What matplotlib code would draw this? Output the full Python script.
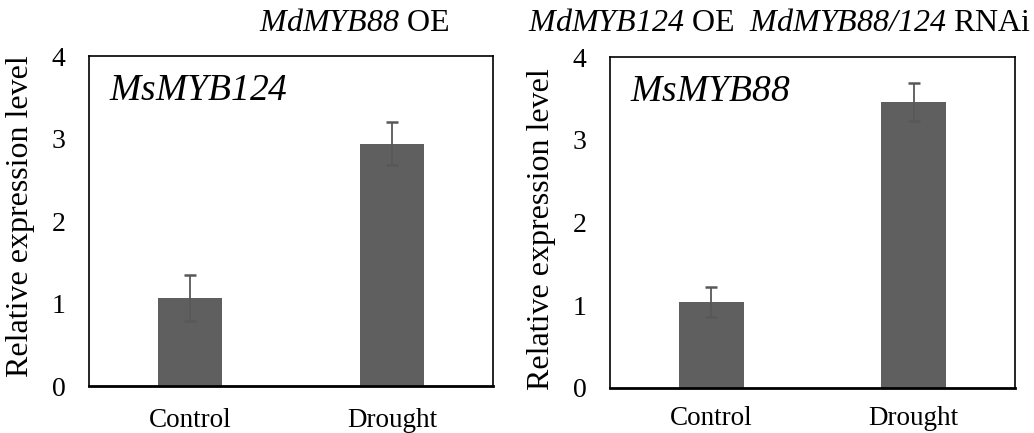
import matplotlib
matplotlib.use('Agg')
import matplotlib.pyplot as plt

# 資料
categories = ['Control', 'Drought']
myb124_mean = [1.07, 2.94]
myb124_err = [0.28, 0.26]
myb88_mean = [1.04, 3.46]
myb88_err = [0.18, 0.23]
y_ticks = [0, 1, 2, 3, 4]

plt.rcParams['font.family'] = ['Liberation Serif', 'DejaVu Serif']
plt.rcParams['mathtext.fontset'] = 'custom'
plt.rcParams['mathtext.rm'] = 'Liberation Serif:italic'
plt.rcParams['mathtext.it'] = 'Liberation Serif:italic'

fig = plt.figure(figsize=(10.34, 4.33), dpi=100)
ax1 = fig.add_axes([0.0861, 0.1085, 0.3907, 0.762])
ax2 = fig.add_axes([0.590, 0.104, 0.3917, 0.764])

def draw_panel(ax, means, errs, gene, xpad, label_y):
    x = range(len(categories))
    ax.bar(x, means, width=0.32, color='#5f5f5f', zorder=2)
    ax.errorbar(x, means, yerr=errs, fmt='none', ecolor='#585858',
                elinewidth=1.3, capsize=4.5, capthick=1.8, zorder=3)
    ax.set_xlim(-0.5, 1.5)
    ax.set_ylim(0, 4)
    ax.set_yticks(y_ticks)
    ax.set_xticks(list(x))
    ax.set_xticklabels(categories, fontsize=19.5)
    ax.tick_params(axis='y', length=0, pad=17, labelsize=20)
    ax.tick_params(axis='x', length=0, pad=xpad)
    for s in ax.spines.values():
        s.set_linewidth(1.2)
    ax.spines['bottom'].set_linewidth(2)
    ax.set_ylabel('Relative expression level', fontsize=23)
    ax.yaxis.set_label_coords(-0.133, label_y)
    ax.text(0.05, 0.895, '$' + gene + '$', transform=ax.transAxes,
            fontsize=27, ha='left', va='center')

draw_panel(ax1, myb124_mean, myb124_err, 'MsMYB124', 16, 0.515)
draw_panel(ax2, myb88_mean, myb88_err, 'MsMYB88', 13, 0.48)

fig.text(0.342, 0.945, '$MdMYB88$ OE', fontsize=23, ha='center', va='center')
fig.text(0.511, 0.945, '$MdMYB124$ OE  $MdMYB88/124$ RNAi', fontsize=23,
         ha='left', va='center')

plt.savefig('out.png', dpi=100)
